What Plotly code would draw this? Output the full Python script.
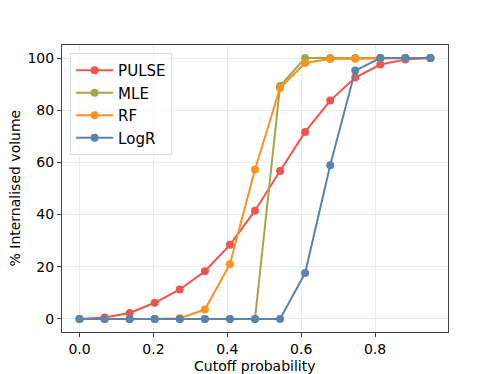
import numpy as np
import plotly.graph_objects as go

cutoff = [0.0, 0.0679, 0.1357, 0.2036, 0.2714, 0.3393, 0.4071, 0.475, 0.5429, 0.6107, 0.6786, 0.7464, 0.8143, 0.8821, 0.95]
pulse = [0, 0.6, 2.3, 6.2, 11.3, 18.3, 28.4, 41.5, 56.7, 71.7, 83.7, 92.5, 97.5, 99.4, 100]
mle = [0, 0, 0, 0, 0, 0, 0, 0, 89.3, 100, 100, 100, 100, 100, 100]
rf = [0, 0, 0, 0, 0.3, 3.6, 21.0, 57.3, 88.5, 98.1, 99.6, 99.7, 100, 100, 100]
logr = [0, 0, 0, 0, 0, 0, 0, 0, 0, 17.6, 58.9, 95.2, 100, 100, 100]

series = [("PULSE", pulse, "#f0544a"), ("MLE", mle, "#a4a64a"),
          ("RF", rf, "#f8931d"), ("LogR", logr, "#5a84ab")]

fig = go.Figure()
for name, vals, col in series:
    fig.add_trace(go.Scatter(x=cutoff, y=vals, name=name, mode="lines+markers",
                             line=dict(color=col, width=2),
                             marker=dict(color=col, size=8)))

axis_common = dict(showline=True, linecolor="#444", linewidth=1, mirror=True,
                   ticks="outside", ticklen=4, tickcolor="#444", automargin=False,
                   showgrid=True, gridcolor="#ebebeb", gridwidth=1, zeroline=False,
                   tickfont=dict(size=14, color="black"))
fig.update_layout(
    width=490, height=366,
    margin=dict(l=54, r=50, t=37, b=42),
    paper_bgcolor="white", plot_bgcolor="white",
    font=dict(family="DejaVu Sans", color="black"),
    showlegend=True,
    legend=dict(x=0.021, y=0.972, xanchor="left", yanchor="top",
                bgcolor="rgba(255,255,255,0.8)", bordercolor="#dddddd", borderwidth=1,
                font=dict(size=15), itemwidth=37, tracegroupgap=0),
    annotations=[
        dict(text="Cutoff probability", xref="paper", yref="paper", x=0.5, y=0,
             xanchor="center", yanchor="middle", yshift=-34, showarrow=False,
             font=dict(size=14)),
        dict(text="% Internalised volume", xref="paper", yref="paper", x=0, y=0.5,
             xanchor="center", yanchor="middle", xshift=-48, textangle=-90,
             showarrow=False, font=dict(size=14)),
    ],
)
fig.update_xaxes(range=[-0.0475, 0.9975], tickvals=[0, 0.2, 0.4, 0.6, 0.8],
                 ticktext=["0.0", "0.2", "0.4", "0.6", "0.8"], **axis_common)
fig.update_yaxes(range=[-5, 105], tickvals=[0, 20, 40, 60, 80, 100], **axis_common)

fig.write_html("out.html")
